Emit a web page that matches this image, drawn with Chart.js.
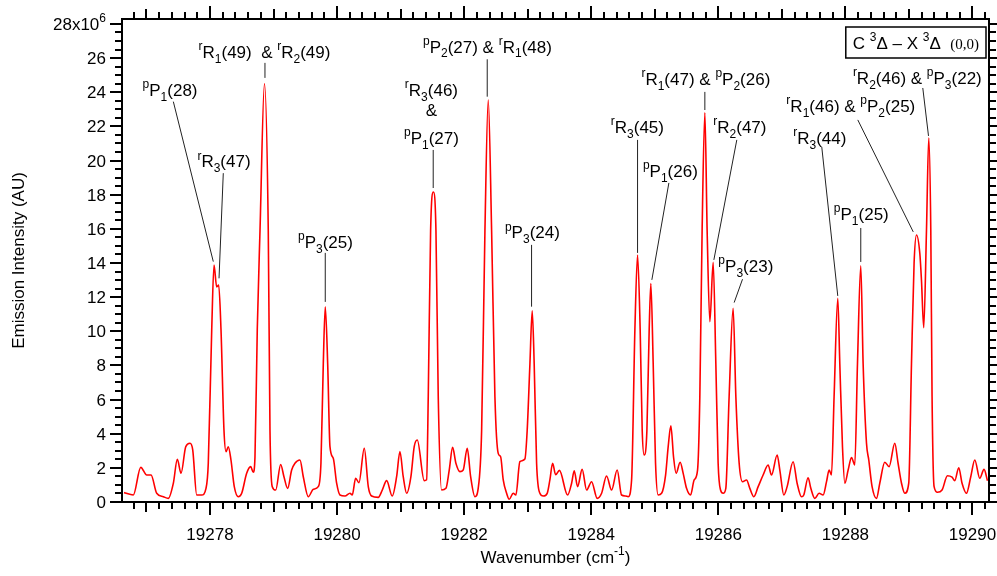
<!DOCTYPE html>
<html><head><meta charset="utf-8">
<script src="https://cdn.jsdelivr.net/npm/chart.js@4.4.1/dist/chart.umd.min.js"></script>
<style>html,body{margin:0;padding:0;background:#fff}canvas{display:block}</style>
</head><body>
<canvas id="c" width="997" height="576" style="width:997px;height:576px"></canvas>
<script>
// ---- data ----
const wavenumber = [
19276.647,19276.793,19276.910,19277.004,19277.072,19277.161,19277.265,19277.344,19277.423,19277.486,
19277.544,19277.618,19277.685,19277.728,19277.791,19277.869,19277.937,19277.973,19278.027,19278.063,
19278.105,19278.137,19278.173,19278.220,19278.252,19278.288,19278.330,19278.382,19278.445,19278.499,
19278.577,19278.640,19278.681,19278.708,19278.744,19278.787,19278.857,19278.917,19278.944,19278.980,
19279.034,19279.112,19279.164,19279.222,19279.285,19279.337,19279.416,19279.468,19279.547,19279.625,
19279.704,19279.746,19279.783,19279.814,19279.852,19279.888,19279.940,19279.993,19280.045,19280.124,
19280.203,19280.239,19280.292,19280.344,19280.428,19280.491,19280.544,19280.648,19280.711,19280.780,
19280.868,19280.937,19280.989,19281.041,19281.095,19281.162,19281.214,19281.262,19281.372,19281.409,
19281.435,19281.472,19281.516,19281.556,19281.592,19281.645,19281.713,19281.765,19281.818,19281.870,
19281.933,19281.985,19282.048,19282.102,19282.169,19282.221,19282.275,19282.327,19282.379,19282.432,
19282.484,19282.536,19282.574,19282.615,19282.668,19282.709,19282.772,19282.814,19282.877,19282.956,
19282.992,19283.035,19283.071,19283.102,19283.140,19283.192,19283.244,19283.307,19283.349,19283.392,
19283.439,19283.499,19283.628,19283.691,19283.732,19283.785,19283.857,19283.927,19284.005,19284.094,
19284.163,19284.241,19284.320,19284.408,19284.477,19284.540,19284.581,19284.635,19284.687,19284.729,
19284.770,19284.802,19284.833,19284.876,19284.912,19284.938,19284.975,19285.012,19285.053,19285.107,
19285.170,19285.211,19285.253,19285.295,19285.336,19285.399,19285.447,19285.500,19285.563,19285.620,
19285.673,19285.709,19285.745,19285.788,19285.824,19285.867,19285.919,19285.961,19285.997,19286.035,
19286.076,19286.118,19286.170,19286.233,19286.276,19286.328,19286.381,19286.444,19286.496,19286.559,
19286.627,19286.705,19286.784,19286.837,19286.926,19286.968,19287.031,19287.083,19287.177,19287.240,
19287.309,19287.345,19287.413,19287.456,19287.519,19287.586,19287.649,19287.703,19287.744,19287.781,
19287.822,19287.880,19287.912,19287.954,19287.991,19288.043,19288.096,19288.148,19288.190,19288.242,
19288.279,19288.332,19288.368,19288.420,19288.489,19288.541,19288.620,19288.688,19288.777,19288.829,
19288.883,19288.935,19288.997,19289.040,19289.081,19289.119,19289.171,19289.197,19289.233,19289.276,
19289.312,19289.344,19289.364,19289.396,19289.449,19289.521,19289.606,19289.679,19289.721,19289.784,
19289.836,19289.905,19289.973,19290.036,19290.115,19290.182,19290.236
];
const intensity = [
0.55,0.41,2.03,1.58,1.58,0.51,0.31,0.21,1.10,2.50,
1.68,3.24,3.44,3.05,0.41,0.41,0.80,2.27,10.08,13.88,
12.6,12.7,10.1,4.2,2.95,3.24,2.46,0.90,0.31,0.51,
1.68,2.07,1.74,2.65,10.1,15.9,24.5,15.9,4.2,0.90,
0.70,2.20,1.48,0.80,1.87,2.27,2.46,1.48,0.31,0.74,
0.90,2.27,8.1,11.44,8.1,3.24,2.56,1.10,0.41,0.35,
0.51,0.41,1.39,1.13,3.15,0.90,0.35,0.27,0.70,1.25,
0.35,1.48,2.95,1.48,0.51,1.48,3.24,3.63,1.25,1.3,
6.2,15.9,18.16,15.9,6.2,0.70,0.80,1.87,3.20,2.27,
1.78,1.87,3.15,1.48,0.31,0.80,4.2,15.9,23.55,15.9,
6.17,2.85,2.65,1.29,0.51,0.16,0.51,0.41,2.36,2.52,
4.2,8.1,11.2,8.1,2.27,0.51,0.35,0.51,1.29,2.27,
1.60,1.85,0.41,1.10,1.83,0.90,1.91,0.70,1.19,0.21,
0.51,1.52,0.70,1.87,0.41,0.35,0.31,1.29,10.1,14.47,
10.1,4.2,2.75,4.2,10.1,12.8,8.1,2.27,0.41,0.51,
1.58,3.24,4.47,2.65,1.68,2.33,1.68,0.80,0.41,1.29,
1.87,6.17,15.9,22.8,15.9,10.56,14.04,8.1,2.27,0.70,
0.51,0.80,6.17,11.35,6.17,2.27,1.19,1.29,0.80,0.31,
0.90,1.58,2.17,1.58,2.75,1.87,0.41,0.90,2.36,1.10,
0.31,0.41,1.42,0.80,0.21,0.51,0.41,1.19,1.87,1.58,
6.17,11.93,8.1,3.24,1.10,1.87,2.60,2.17,8.1,13.83,
8.1,3.44,2.46,0.90,0.21,1.10,2.33,2.07,3.44,2.27,
1.10,0.51,1.10,8.1,13.98,15.64,14.57,13.0,10.21,15.9,
21.32,15.9,6.17,0.90,0.57,0.70,1.54,1.45,1.25,2.01,
1.10,0.51,1.48,2.46,1.39,1.91,1.25
];
const xTickValues = [19278,19280,19282,19284,19286,19288,19290];
const xTickLabels = ['19278','19280','19282','19284','19286','19288','19290'];
const yTickValues = [0,2,4,6,8,10,12,14,16,18,20,22,24,26,28];
const yTickLabels = ['0','2','4','6','8','10','12','14','16','18','20','22','24','26','28x10^6'];
const xRange = [19276.615, 19290.26];
const yRange = [0, 28.29];

// peak assignments: label anchor and leader line, in data units
const peakLabels = [
  {text:'^pP_1(28)', at:[19277.371,23.78], line:[19277.423,23.45,19278.052,14.08]},
  {text:'^rR_3(47)', at:[19278.220,19.61], line:[19278.209,19.26,19278.142,13.10]},
  {text:'^rR_1(49)  & ^rR_2(49)', at:[19278.857,26.01], line:[19278.865,25.72,19278.865,24.84]},
  {text:'^pP_3(25)', at:[19279.817,14.88], line:[19279.814,14.59,19279.814,11.72]},
  {text:'^rR_3(46)', at:[19281.485,23.78]},
  {text:'&', at:[19281.485,22.61]},
  {text:'^pP_1(27)', at:[19281.485,20.97], line:[19281.513,20.62,19281.513,18.39]},
  {text:'^pP_2(27) & ^rR_1(48)', at:[19282.366,26.32], line:[19282.363,25.93,19282.363,23.74]},
  {text:'^pP_3(24)', at:[19283.074,15.45], line:[19283.061,15.06,19283.061,11.44]},
  {text:'^rR_3(45)', at:[19284.726,21.62], line:[19284.729,21.21,19284.729,14.59]},
  {text:'^pP_1(26)', at:[19285.245,19.04], line:[19285.222,18.69,19284.954,13.01]},
  {text:'^rR_1(47) & ^pP_2(26)', at:[19285.804,24.43], line:[19285.788,24.02,19285.788,22.96]},
  {text:'^rR_2(47)', at:[19286.339,21.62], line:[19286.291,21.21,19285.930,14.18]},
  {text:'^pP_3(23)', at:[19286.433,13.47], line:[19286.381,13.05,19286.249,11.68]},
  {text:'^rR_3(44)', at:[19287.597,20.97], line:[19287.628,20.80,19287.880,12.07]},
  {text:'^rR_1(46) & ^pP_2(25)', at:[19288.085,22.85], line:[19288.195,22.38,19289.068,15.82]},
  {text:'^pP_1(25)', at:[19288.250,16.52], line:[19288.242,16.05,19288.242,14.06]},
  {text:'^rR_2(46) & ^pP_3(22)', at:[19290.146,24.49], align:'right', line:[19289.218,24.25,19289.308,21.44]}
];

const FONT = '"Liberation Sans", Arial, Helvetica, sans-serif';
const SERIF = '"Liberation Serif", "Times New Roman", serif';
const FS = 17;

function parseRich(s){
  const parts=[]; let buf=''; let i=0;
  while(i<s.length){
    const c=s[i];
    if((c==='^'||c==='_') && i+1<s.length){
      if(buf){parts.push({t:buf,k:'n'});buf='';}
      parts.push({t:s[i+1],k:c==='^'?'sup':'sub'}); i+=2;
    } else {buf+=c;i++;}
  }
  if(buf) parts.push({t:buf,k:'n'});
  return parts;
}
function partFont(p,size){
  if(p.font) return p.font;
  return (p.k==='n'?size:Math.round(size*0.68))+'px '+FONT;
}
function drawParts(ctx, parts, x, y, size, align){
  let w=0;
  for(const p of parts){ctx.font=partFont(p,size); w+=ctx.measureText(p.t).width;}
  let cx = align==='center'? x-w/2 : (align==='right'? x-w : x);
  ctx.textAlign='left'; ctx.textBaseline='alphabetic';
  for(const p of parts){
    ctx.font=partFont(p,size);
    const dy = p.k==='sup' ? -size*0.45 : (p.k==='sub' ? size*0.28 : 0);
    ctx.fillText(p.t, cx, y+dy);
    cx += ctx.measureText(p.t).width;
  }
  return w;
}
function drawRich(ctx,s,x,y,size,align){ return drawParts(ctx,parseRich(s),x,y,size,align); }

const decor = {
  id:'decor',
  afterDatasetsDraw(chart){
    const ctx=chart.ctx, a=chart.chartArea, xs=chart.scales.x, ys=chart.scales.y;
    ctx.save();
    ctx.fillStyle='#000'; ctx.strokeStyle='#000';
    // ticks
    ctx.lineWidth=2;
    ctx.beginPath();
    const x0=Math.ceil(xRange[0]*5-1e-6), x1=Math.floor(xRange[1]*5+1e-6);
    for(let k=x0;k<=x1;k++){
      const v=k/5; const px=Math.round(xs.getPixelForValue(v))+0.0;
      let len=7;
      if(k%10===0) len=13; else if(k%5===0) len=10;
      ctx.moveTo(px,a.bottom); ctx.lineTo(px,a.bottom+len);
      ctx.moveTo(px,a.top); ctx.lineTo(px,a.top-len);
    }
    for(let k=0;k<=Math.floor(yRange[1]*2+1e-6);k++){
      const v=k/2; const py=Math.round(ys.getPixelForValue(v));
      const len = (k%4===0)?12:7;
      ctx.moveTo(a.left,py); ctx.lineTo(a.left-len,py);
      ctx.moveTo(a.right,py); ctx.lineTo(a.right+len,py);
    }
    ctx.stroke();
    // frame
    ctx.lineWidth=2;
    ctx.strokeRect(a.left,a.top,a.right-a.left,a.bottom-a.top);
    // tick labels
    xTickValues.forEach((v,i)=>{
      drawRich(ctx,xTickLabels[i],xs.getPixelForValue(v),a.bottom+38,FS,'center');
    });
    yTickValues.forEach((v,i)=>{
      drawRich(ctx,yTickLabels[i],a.left-16,ys.getPixelForValue(v)+6,FS,'right');
    });
    // axis titles
    drawRich(ctx,'Wavenumber (cm^-^1)',(a.left+a.right)/2,a.bottom+61,FS,'center');
    ctx.save();
    ctx.translate(24,(a.top+a.bottom)/2);
    ctx.rotate(-Math.PI/2);
    drawRich(ctx,'Emission Intensity (AU)',0,0,FS,'center');
    ctx.restore();
    // leader lines and labels
    ctx.lineWidth=1; ctx.strokeStyle='#222';
    ctx.beginPath();
    for(const L of peakLabels){
      if(!L.line) continue;
      ctx.moveTo(xs.getPixelForValue(L.line[0]),ys.getPixelForValue(L.line[1]));
      ctx.lineTo(xs.getPixelForValue(L.line[2]),ys.getPixelForValue(L.line[3]));
    }
    ctx.stroke();
    ctx.fillStyle='#000';
    for(const L of peakLabels){
      drawRich(ctx,L.text,xs.getPixelForValue(L.at[0]),ys.getPixelForValue(L.at[1]),FS,L.align||'center');
    }
    // band box
    const boxParts=[
      {t:'C ',k:'n'},{t:'3',k:'sup'},{t:'\u0394 \u2013 X ',k:'n'},{t:'3',k:'sup'},{t:'\u0394  ',k:'n'},
      {t:'(0,0)',k:'n',font:'15px '+SERIF}
    ];
    const bx1=a.right-3, by0=a.top+8, bh=31;
    ctx.font=FS+'px '+FONT;
    let w=0; for(const p of boxParts){ctx.font=partFont(p,FS); w+=ctx.measureText(p.t).width;}
    const bx0=bx1-w-14;
    ctx.lineWidth=1.5; ctx.strokeStyle='#000';
    ctx.strokeRect(bx0,by0,bx1-bx0,bh);
    drawParts(ctx,boxParts,bx0+7,by0+22,FS,'left');
    ctx.restore();
  }
};

const points = wavenumber.map((x,i)=>({x:x,y:intensity[i]}));
new Chart(document.getElementById('c'),{
  type:'line',
  data:{datasets:[{data:points,borderColor:'#ff0000',borderWidth:1.6,pointRadius:0,fill:false,
    cubicInterpolationMode:'monotone'}]},
  options:{
    responsive:false, animation:false, devicePixelRatio:1,
    layout:{padding:{left:122,right:8,top:19,bottom:74}},
    scales:{
      x:{type:'linear',min:xRange[0],max:xRange[1],display:false},
      y:{type:'linear',min:yRange[0],max:yRange[1],display:false}
    },
    plugins:{legend:{display:false},tooltip:{enabled:false}}
  },
  plugins:[decor]
});
</script>
</body></html>
